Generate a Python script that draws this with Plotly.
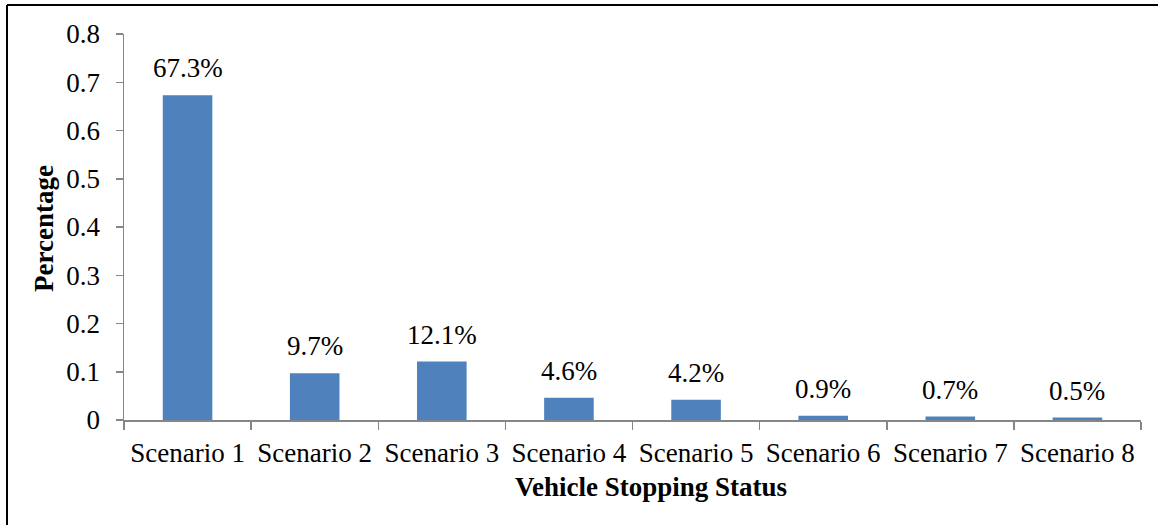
import plotly.graph_objects as go

categories = ["Scenario 1", "Scenario 2", "Scenario 3", "Scenario 4",
              "Scenario 5", "Scenario 6", "Scenario 7", "Scenario 8"]
values = [0.673, 0.097, 0.121, 0.046, 0.042, 0.009, 0.007, 0.005]
value_labels = ["67.3%", "9.7%", "12.1%", "4.6%", "4.2%", "0.9%", "0.7%", "0.5%"]
y_ticks = [0, 0.1, 0.2, 0.3, 0.4, 0.5, 0.6, 0.7, 0.8]
y_tick_labels = ["0", "0.1", "0.2", "0.3", "0.4", "0.5", "0.6", "0.7", "0.8"]

W, H = 1158, 525
L, R, T, B = 124, 17, 34, 105
pw, ph = W - L - R, H - T - B

serif = "Liberation Serif, Times New Roman, serif"

fig = go.Figure()
fig.add_trace(go.Bar(
    x=categories, y=values,
    marker=dict(color="#4F81BD", line=dict(width=0)),
    width=0.39,
    hoverinfo="skip",
))

for c, v, lab in zip(categories, values, value_labels):
    fig.add_annotation(x=c, y=v, text=lab, showarrow=False,
                       yanchor="bottom", yshift=10,
                       font=dict(family=serif, size=27, color="black"))

# Axis titles as annotations for precise placement
fig.add_annotation(xref="paper", yref="paper", x=(651 - L) / pw,
                   y=-(487 - (H - B)) / ph, text="<b>Vehicle Stopping Status</b>",
                   showarrow=False, xanchor="center", yanchor="middle",
                   font=dict(family=serif, size=27, color="black"))
fig.add_annotation(xref="paper", yref="paper", x=(44 - L) / pw,
                   y=((H - B) - 229) / ph, text="<b>Percentage</b>",
                   textangle=-90, showarrow=False, xanchor="center", yanchor="middle",
                   font=dict(family=serif, size=27, color="black"))

# Outer frame (top and left lines only)
fx0 = (7 - L) / pw
fy_top = 1 + (T - 5) / ph
fy_bot = -B / ph - 0.01
fx1 = (W - L) / pw + 0.01
fig.add_shape(type="line", xref="paper", yref="paper", x0=fx0, x1=fx1,
              y0=fy_top, y1=fy_top, line=dict(color="black", width=2))
fig.add_shape(type="line", xref="paper", yref="paper", x0=fx0, x1=fx0,
              y0=fy_bot, y1=fy_top, line=dict(color="black", width=2))

fig.update_layout(
    width=W, height=H,
    margin=dict(l=L, r=R, t=T, b=B, pad=0, autoexpand=False),
    paper_bgcolor="white", plot_bgcolor="white",
    showlegend=False,
    xaxis=dict(
        type="category", automargin=False,
        showline=True, linecolor="#868686", linewidth=1.5,
        ticks="outside", tickson="boundaries", ticklen=8,
        tickcolor="#868686", tickwidth=1.5,
        ticklabelstandoff=8,
        tickfont=dict(family=serif, size=27, color="black"),
        showgrid=False,
    ),
    yaxis=dict(
        range=[0, 0.8], automargin=False,
        tickvals=y_ticks, ticktext=y_tick_labels,
        showline=True, linecolor="#868686", linewidth=1.5,
        ticks="outside", ticklen=7, tickcolor="#868686", tickwidth=1.5,
        ticklabelstandoff=10,
        tickfont=dict(family=serif, size=27, color="black"),
        showgrid=False, zeroline=False,
    ),
)

fig.write_html("out.html",
               config={"displayModeBar": False, "staticPlot": True},
               post_script="document.body.style.margin='0';document.body.style.overflow='hidden';")
